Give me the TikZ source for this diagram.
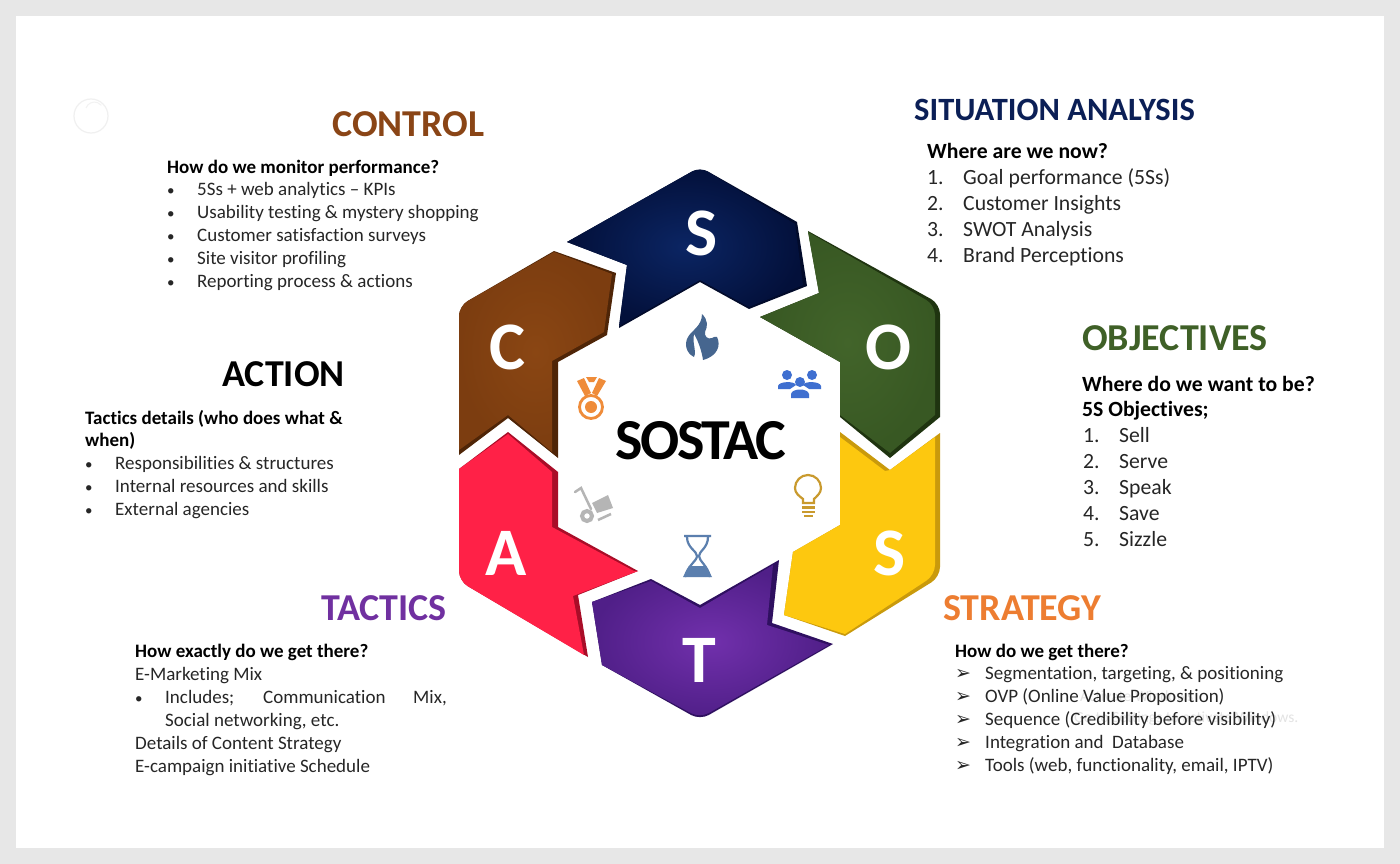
\documentclass[tikz,border=0pt]{standalone}
\usepackage{fontspec}
\setmainfont[Ligatures=NoCommon]{Carlito}
\newfontfamily\dejavu{DejaVu Sans}
\newcommand{\arrowmark}{{\dejavu\fontsize{19}{19}\selectfont ➢}}
\newcommand{\smallbullet}{{\fontsize{15}{15}\selectfont •}}
\definecolor{pagegrey}{HTML}{E7E7E7}
\definecolor{navyhead}{HTML}{0B1F56}
\definecolor{brownhead}{HTML}{8A4516}
\definecolor{greenhead}{HTML}{3F6027}
\definecolor{orangehead}{HTML}{ED7D31}
\definecolor{purplehead}{HTML}{7030A0}
\definecolor{textcol}{HTML}{262626}
\definecolor{navydark}{HTML}{020B2B}
\definecolor{navyin}{HTML}{0B2563}
\definecolor{navyout}{HTML}{03103A}
\definecolor{greendark}{HTML}{1F3410}
\definecolor{greenin}{HTML}{42642A}
\definecolor{greenout}{HTML}{385823}
\definecolor{yelldark}{HTML}{C99A0C}
\definecolor{yellface}{HTML}{FDC80F}
\definecolor{purpdark}{HTML}{2F1060}
\definecolor{purpin}{HTML}{7130AC}
\definecolor{purpout}{HTML}{501F88}
\definecolor{reddark}{HTML}{A90D28}
\definecolor{redface}{HTML}{FF2147}
\definecolor{browndark}{HTML}{4F2507}
\definecolor{brownin}{HTML}{8A4613}
\definecolor{brownout}{HTML}{7C3D10}
\definecolor{flamec}{HTML}{46668F}
\definecolor{peoplec}{HTML}{3F6FD0}
\definecolor{bulbc}{HTML}{C99A2E}
\definecolor{glassc}{HTML}{5B7FAE}
\definecolor{cartc}{HTML}{B5B5B5}
\definecolor{medalc}{HTML}{EF8C3A}
\tikzset{
  head/.style={anchor=base west,inner sep=0pt,font=\fontsize{38}{42}\selectfont\bfseries},
  headsmall/.style={anchor=base west,inner sep=0pt,font=\fontsize{32.5}{36}\selectfont\bfseries},
  body/.style={anchor=base west,inner sep=0pt,text=textcol,font=\fontsize{19}{22}\selectfont},
  bodyb/.style={body,text=black,font=\fontsize{19}{22}\selectfont\bfseries},
  big/.style={anchor=base west,inner sep=0pt,text=textcol,font=\fontsize{21.7}{24}\selectfont},
  bigb/.style={big,text=black,font=\fontsize{21.7}{24}\selectfont\bfseries},
  letter/.style={inner sep=0pt,text=white,font=\fontsize{68}{68}\selectfont\bfseries},
  ghost/.style={anchor=base west,inner sep=0pt,text=black!11,font=\fontsize{15.5}{18}\selectfont},
}
\begin{document}
\begin{tikzpicture}[x=1pt,y=-1pt]
\useasboundingbox (0,0) rectangle (1400,864);
\fill[pagegrey] (0,0) rectangle (1400,864);
\fill[white] (16,16) rectangle (1384,848);
% faint mark
\draw[black!6,line width=1.2pt] (91,116) circle (17);
\draw[black!5,line width=1pt] (86,108) arc (200:320:9);
% watermark
\node[ghost] (w1) at (1080,701) {Activate Windows};
\node[ghost] (w2) at (1074,722) {Go to Settings to activate Windows.};

% S navy
\fill[navydark] (567,242) [rounded corners=9] -- (700,167) [sharp corners] -- (797,222) -- (807,286) -- (749,309) -- (700,282) -- (619,328) -- (627,265) -- cycle;
\shade[inner color=navyin,outer color=navyout] (567,242) [rounded corners=9] -- (700,167) [sharp corners] -- (795,224) -- (803,285) -- (749,307) -- (700,280) -- (619,326) -- (627,265) -- cycle;
% O green
\fill[greendark] (808,231) [rounded corners=10] -- (940,304) [sharp corners] -- (940,417) -- (890,458) -- (840,417) -- (840,362) -- (760,317) -- (819,293) -- cycle;
\shade[inner color=greenin,outer color=greenout] (808,232) [rounded corners=10] -- (935,305) [sharp corners] -- (935,415) -- (890,453) -- (840,415) -- (840,362) -- (760,317) -- (819,293) -- cycle;
% S yellow
\fill[yelldark] (840,432) -- (890,470) -- (940,433) [rounded corners=10] -- (940,577) [sharp corners] -- (845,636) -- (784,615) -- (793,552) -- (840,525) -- cycle;
\fill[yellface] (840,437) -- (885,471) -- (890,470) -- (935,437) [rounded corners=10] -- (935,575) [sharp corners] -- (845,634) -- (784,615) -- (793,552) -- (840,525) -- cycle;
% T purple
\fill[purpdark] (779,560) -- (772,623) -- (833,644) [rounded corners=10] -- (700,720) [sharp corners] -- (602,665) -- (592,602) -- (651,579) -- (700,605) -- cycle;
\shade[inner color=purpin,outer color=purpout] (773,565) -- (767,625) -- (829,645) [rounded corners=10] -- (700,718) [sharp corners] -- (602,665) -- (592,602) -- (651,581) -- (700,608) -- cycle;
% A red
\fill[reddark] (508,432) -- (558,472) -- (558,527) -- (638,571) -- (578,595) -- (588,657) [rounded corners=10] -- (459,581) [sharp corners] -- (459,469) -- cycle;
\fill[redface] (508,434) -- (552,472) -- (552,527) -- (634,571) -- (638,571) -- (573,596) -- (584,655) [rounded corners=10] -- (459,581) [sharp corners] -- (459,469) -- cycle;
% C brown
\fill[browndark] (554,251) -- (616,273) -- (607,335) -- (558,362) -- (558,458) -- (508,418) -- (459,455) [rounded corners=10] -- (459,306) [sharp corners] -- cycle;
\shade[inner color=brownin,outer color=brownout] (554,252) -- (612,274) -- (604,332) -- (552,361) -- (552,452) -- (508,415) -- (459,450) [rounded corners=10] -- (459,306) [sharp corners] -- cycle;

% letters
\node[letter] (ls) at (702,233) {S};
\node[letter] (lo) at (888.5,347) {O};
\node[letter] (lt) at (890,553) {S};
\node[letter] (lta) at (699,660) {T};
\node[letter] (la) at (506.5,553) {A};
\node[letter] (lc) at (507,347) {C};
\node[inner sep=0pt,text=black,font=\fontsize{58}{58}\selectfont\bfseries] (sostac) at (701,441) {\addfontfeatures{LetterSpace=-4}SOSTAC};

% flame
\fill[flamec] (702,314) .. controls (708,320) and (708,326) .. (705,332) .. controls (704,336) and (708,340) .. (712,338) .. controls (714,337) and (716,336) .. (717,337) .. controls (721,345) and (718,356) .. (703,360) .. controls (702,352) and (698,340) .. (694,334) .. controls (692,345) and (697,350) .. (694,357) .. controls (686,353) and (684,344) .. (688,337) .. controls (692,330) and (702,326) .. (702,314) -- cycle;
% people
\begin{scope}[fill=peoplec]
\fill (787,375) circle (5);
\fill (812,375) circle (5);
\fill (800,382) circle (5);
\fill (778,389) -- (778,386) .. controls (779,381) and (795,381) .. (796,385) -- (790,389) -- cycle;
\fill (821,389) -- (821,386) .. controls (820,381) and (804,381) .. (803,385) -- (809,389) -- cycle;
\fill (791,398) -- (791,394) .. controls (792,388) and (808,388) .. (809,394) -- (809,398) -- cycle;
\end{scope}
% bulb
\draw[draw=bulbc,line width=2.2pt] (803,503) -- (803,499) .. controls (799,496) and (795,493) .. (795,488) arc (180:360:13) .. controls (821,493) and (817,496) .. (814,499) -- (814,503) -- cycle;
\draw[draw=bulbc,line width=2.2pt] (802,507.5) -- (815,507.5) (802,512) -- (815,512) (804,516) -- (813,516);
% hourglass
\fill[glassc] (689,566) -- (706,566) -- (712,577) -- (683,577) -- cycle;
\draw[glassc,line width=2.2pt] (684,536) -- (711,536) (687,537) .. controls (687,548) and (697,551) .. (697,556) .. controls (697,561) and (687,566) .. (685,577) (708,537) .. controls (708,548) and (699,551) .. (699,556) .. controls (699,561) and (708,566) .. (710,577);
% cart
\draw[cartc,line width=2.5pt,line cap=round] (575,492) -- (581,488) -- (591,509);
\draw[cartc,line width=4pt] (587,516) circle (5);
\fill[cartc] (592,503) -- (608,495) -- (613,508) -- (597,513) -- cycle;
\draw[cartc,line width=2.5pt] (598,520) -- (611,514);
% medal
\draw[medalc,line width=2.8pt] (591,407) circle (11.5);
\fill[medalc] (591,407) circle (6);
\fill[medalc] (577,381) -- (584,378) -- (591,393) -- (585,396) -- cycle;
\fill[medalc] (606,381) -- (599,378) -- (592,393) -- (597,396) -- cycle;
\fill[medalc] (586,377) -- (597,377) -- (594,382) -- (589,382) -- cycle;

% CONTROL
\node[head,text=brownhead] (hc) at (332,136) {CONTROL};
\node[bodyb] (c0) at (167,173) {How do we monitor performance?};
\node[body] (c1b) at (167,195) {\smallbullet}; \node[body] (c1) at (197,195) {5Ss + web analytics – KPIs};
\node[body] (c2b) at (167,218) {\smallbullet}; \node[body] (c2) at (197,218) {Usability testing \& mystery shopping};
\node[body] (c3b) at (167,241) {\smallbullet}; \node[body] (c3) at (197,241) {Customer satisfaction surveys};
\node[body] (c4b) at (167,264) {\smallbullet}; \node[body] (c4) at (197,264) {Site visitor profiling};
\node[body] (c5b) at (167,287) {\smallbullet}; \node[body] (c5) at (197,287) {Reporting process \& actions};
% ACTION
\node[head,text=black] (ha) at (222,386) {ACTION};
\node[bodyb] (a0) at (85,424) {Tactics details (who does what \&};
\node[bodyb] (a00) at (85,446) {when)};
\node[body] (a1b) at (85,469) {\smallbullet}; \node[body] (a1) at (115,469) {Responsibilities \& structures};
\node[body] (a2b) at (85,492) {\smallbullet}; \node[body] (a2) at (115,492) {Internal resources and skills};
\node[body] (a3b) at (85,515) {\smallbullet}; \node[body] (a3) at (115,515) {External agencies};
% TACTICS
\node[head,text=purplehead] (ht) at (321,620) {TACTICS};
\node[bodyb] (t0) at (135,657) {How exactly do we get there?};
\node[body] (t1) at (135,680) {E-Marketing Mix};
\node[body] (t2b) at (135,703) {\smallbullet}; \node[body] (t2) at (165,703) {Includes;};
\node[body] (t2c) at (263,703) {Communication}; \node[body] (t2d) at (413,703) {Mix,};
\node[body] (t3) at (165,726) {Social networking, etc.};
\node[body] (t4) at (135,749) {Details of Content Strategy};
\node[body] (t5) at (135,772) {E-campaign initiative Schedule};
% SITUATION
\node[headsmall,text=navyhead] (hs) at (914,121) {SITUATION ANALYSIS};
\node[bigb] (s0) at (927,158) {Where are we now?};
\node[big] (s1n) at (927,184) {1.}; \node[big] (s1) at (963,184) {Goal performance (5Ss)};
\node[big] (s2n) at (927,210) {2.}; \node[big] (s2) at (963,210) {Customer Insights};
\node[big] (s3n) at (927,236) {3.}; \node[big] (s3) at (963,236) {SWOT Analysis};
\node[big] (s4n) at (927,262) {4.}; \node[big] (s4) at (963,262) {Brand Perceptions};
% OBJECTIVES
\node[head,text=greenhead] (ho) at (1082,350) {OBJECTIVES};
\node[bigb] (o0) at (1082,391) {Where do we want to be?};
\node[bigb] (o00) at (1082,416) {5S Objectives;};
\node[big] (o1n) at (1083,442) {1.}; \node[big] (o1) at (1119,442) {Sell};
\node[big] (o2n) at (1083,468) {2.}; \node[big] (o2) at (1119,468) {Serve};
\node[big] (o3n) at (1083,494) {3.}; \node[big] (o3) at (1119,494) {Speak};
\node[big] (o4n) at (1083,520) {4.}; \node[big] (o4) at (1119,520) {Save};
\node[big] (o5n) at (1083,546) {5.}; \node[big] (o5) at (1119,546) {Sizzle};
% STRATEGY
\node[head,text=orangehead] (hy) at (943,620) {STRATEGY};
\node[bodyb] (y0) at (955,657) {How do we get there?};
\node[body] (y1b) at (955,679) {\arrowmark}; \node[body] (y1) at (985,679) {Segmentation, targeting, \& positioning};
\node[body] (y2b) at (955,702) {\arrowmark}; \node[body] (y2) at (985,702) {OVP (Online Value Proposition)};
\node[body] (y3b) at (955,725) {\arrowmark}; \node[body] (y3) at (985,725) {Sequence (Credibility before visibility)};
\node[body] (y4b) at (955,748) {\arrowmark}; \node[body] (y4) at (985,748) {Integration and~ Database};
\node[body] (y5b) at (955,771) {\arrowmark}; \node[body] (y5) at (985,771) {Tools (web, functionality, email, IPTV)};
\end{tikzpicture}
\end{document}
